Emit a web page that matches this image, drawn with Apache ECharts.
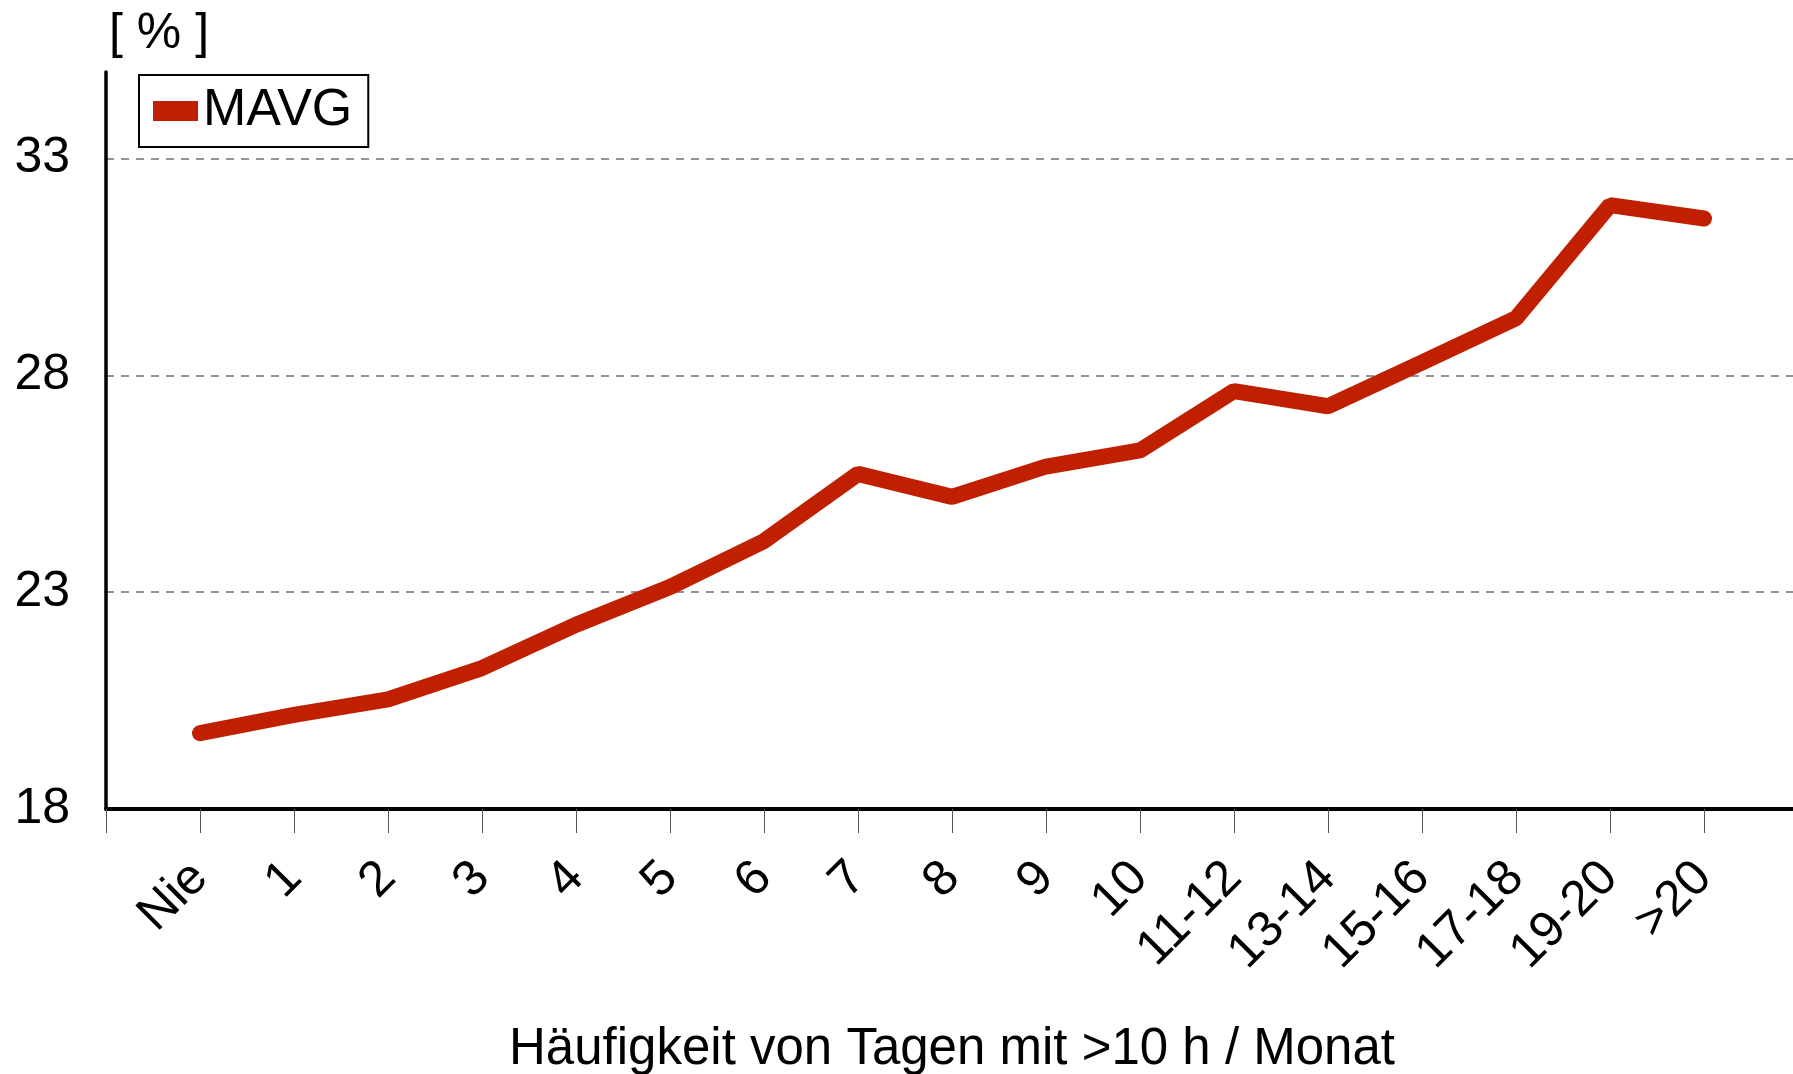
<!DOCTYPE html>
<html>
<head>
<meta charset="utf-8">
<script src="https://cdn.jsdelivr.net/npm/echarts@6/dist/echarts.min.js"></script>
<style>
  html, body { margin: 0; padding: 0; background: #fff; }
  #chart { width: 1793px; height: 1074px; }
</style>
</head>
<body>
<div id="chart"></div>
<script>
var categories = ['Nie', '1', '2', '3', '4', '5', '6', '7', '8', '9', '10',
  '11-12', '13-14', '15-16', '17-18', '19-20', '>20']
var mavg = [19.75, 20.17, 20.53, 21.25, 22.25, 23.12, 24.18, 25.73, 25.2, 25.9, 26.27,
  27.64, 27.29, 28.3, 29.32, 31.93, 31.62]
var yMin = 18
var yMax = 35
var yStep = 5

var font = 'Liberation Sans, Arial, sans-serif'
var red = '#c02000'

// one empty slot on each side so 'Nie' sits one step inside the axis
var xData = [''].concat(categories, [''])
var yData = [null].concat(mavg, [null])

var option = {
  backgroundColor: '#fff',
  animation: false,
  title: {
    text: '[ % ]',
    left: 109,
    top: 9,
    padding: 0,
    textStyle: { fontFamily: font, fontSize: 50, fontWeight: 'normal', color: '#000' }
  },
  legend: {
    left: 139,
    top: 75,
    orient: 'horizontal',
    padding: [10, 16, 10, 14],
    borderColor: '#000',
    borderWidth: 2,
    itemWidth: 45,
    itemHeight: 20,
    icon: 'rect',
    itemStyle: { color: red, borderWidth: 0 },
    textStyle: { fontFamily: font, fontSize: 52, color: '#000' },
    data: ['MAVG']
  },
  grid: {
    left: 106,
    right: -5,
    top: 72,
    bottom: 265,
    containLabel: false,
    outerBoundsMode: 'none'
  },
  xAxis: {
    type: 'category',
    data: xData,
    boundaryGap: false,
    name: 'Häufigkeit von Tagen mit >10 h / Monat',
    nameLocation: 'middle',
    nameGap: 215,
    nameTextStyle: { fontFamily: font, fontSize: 51, color: '#000' },
    axisLine: { show: true, lineStyle: { color: '#000', width: 4 } },
    axisTick: { show: true, length: 24, lineStyle: { color: '#555', width: 1 } },
    axisLabel: {
      interval: 0,
      rotate: 45,
      margin: 61,
      fontFamily: font,
      fontSize: 50,
      color: '#000'
    },
    splitLine: { show: false }
  },
  yAxis: {
    type: 'value',
    min: yMin,
    max: yMax,
    interval: yStep,
    axisLine: { show: true, lineStyle: { color: '#000', width: 3.5 } },
    axisTick: { show: false },
    axisLabel: {
      margin: 36,
      fontFamily: font,
      fontSize: 50,
      color: '#000',
      showMaxLabel: false
    },
    splitLine: {
      show: true,
      showMinLine: false,
      showMaxLine: false,
      lineStyle: { color: '#707070', width: 1.5, type: [8, 7] }
    }
  },
  series: [{
    name: 'MAVG',
    type: 'line',
    data: yData,
    symbol: 'none',
    connectNulls: false,
    lineStyle: { color: red, width: 16, cap: 'round' },
    itemStyle: { color: red }
  }]
}

var myChart = echarts.init(document.getElementById('chart'))
myChart.setOption(option)
</script>
</body>
</html>
